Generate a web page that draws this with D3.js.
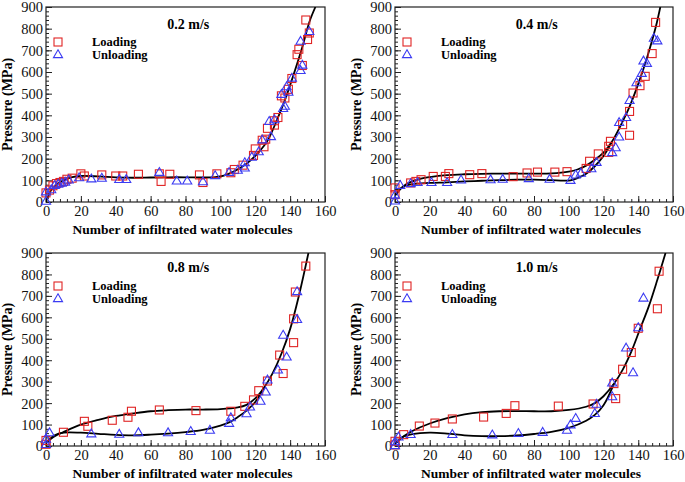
<!DOCTYPE html>
<html>
<head>
<meta charset="utf-8">
<script src="https://cdn.jsdelivr.net/npm/d3@7"></script>
<style>
body { margin: 0; background: #fff; }
text { font-family: "Liberation Serif", "Times New Roman", serif; }
</style>
</head>
<body>
<div id="chart"></div>
<script>
// axis ticks
const xTicks = [0, 20, 40, 60, 80, 100, 120, 140, 160];
const yTicks = [0, 100, 200, 300, 400, 500, 600, 700, 800, 900];
const xMinor = d3.range(0, 161, 4);
const yMinor = d3.range(0, 901, 20);

const speeds = ['0.2 m/s', '0.4 m/s', '0.8 m/s', '1.0 m/s'];

// 0.2 m/s  [molecules, MPa]
const load02 = [[0,42],[2,55],[4,75],[6,85],[8,90],[10,95],[12,105],[15,110],[20,130],[22,120],[32,125],[40,120],[44,120],[53,128],[65,130],[66,95],[71,128],[88,125],[90,90],[98,130],[106,135],[108,150],[113,170],[119,215],[120,245],[124,285],[125,255],[126,290],[127,340],[131,355],[131,375],[133,390],[135,490],[137,480],[139,520],[141,570],[144,680],[145,705],[147,630],[149,840],[150,750],[151,780]];
const unload02 = [[0,2],[0,45],[3,55],[5,75],[7,80],[9,85],[11,90],[13,100],[19,110],[26,105],[32,108],[42,102],[46,102],[65,135],[75,95],[81,95],[90,92],[97,120],[105,135],[110,145],[114,155],[114,180],[118,205],[122,230],[124,285],[128,370],[129,300],[131,378],[135,495],[136,430],[137,440],[138,530],[139,505],[141,570],[146,740],[146,605],[147,630],[151,785]];
const fit02 = [[0,0],[3,55],[6,80],[10,100],[15,115],[20,120],[30,118],[40,114],[50,112],[60,113],[70,114],[80,114],[90,113],[97,115],[102,122],[107,138],[112,160],[117,190],[122,230],[127,282],[132,370],[137,470],[142,588],[147,715],[151,830],[154.5,900]];

// 0.4 m/s
const load04 = [[0,65],[0,34],[9,88],[12,95],[15,103],[22,118],[29,118],[31,131],[43,126],[50,131],[68,117],[76,134],[82,138],[92,138],[99,140],[110,155],[112,188],[117,222],[123,229],[123,257],[124,280],[131,357],[135,418],[135,308],[137,503],[141,537],[144,580],[148,685],[150,829]];
const unload04 = [[0,3],[0,30],[3,75],[9,83],[13,88],[21,88],[30,88],[38,100],[55,101],[62,103],[77,106],[89,103],[101,98],[104,123],[107,131],[113,152],[116,181],[125,226],[127,249],[129,298],[129,365],[133,388],[135,467],[139,549],[142,592],[143,649],[145,638],[149,754],[151,742]];
const fitLoad04 = [[0,30],[3,60],[6,80],[10,95],[15,108],[20,115],[30,124],[40,128],[50,130],[60,131],[70,131],[80,131],[90,132],[100,140],[105,150],[110,168],[115,195],[120,228],[125,280],[130,355],[135,440],[140,545],[145,665],[150,805],[152.7,900]];
const fitUnload04 = [[0,30],[3,60],[6,75],[10,83],[20,88],[30,91],[40,95],[50,98],[60,101],[70,103],[80,103],[90,101],[97,99],[101,100],[105,110],[110,130],[115,165],[120,212],[125,280]];

// 0.8 m/s
const load08 = [[0,26],[0,8],[10,64],[22,115],[24,92],[38,120],[47,134],[49,162],[65,168],[86,165],[106,162],[114,185],[119,215],[122,258],[127,303],[134,424],[136,338],[142,482],[142,593],[143,718],[149,839]];
const unload08 = [[0,5],[0,30],[2,60],[26,55],[42,53],[53,60],[70,60],[83,66],[94,72],[105,104],[106,130],[115,149],[117,180],[123,207],[126,250],[127,306],[133,353],[136,515],[138,413],[144,588],[144,718]];
const fitLoad08 = [[0,15],[5,45],[10,65],[20,100],[30,122],[40,140],[50,152],[60,162],[70,167],[80,170],[90,170],[100,172],[110,180],[115,192],[120,222],[125,272],[130,340],[135,430],[140,545],[145,700],[150.5,900]];
const fitUnload08 = [[0,15],[5,50],[10,62],[20,62],[30,57],[40,52],[50,50],[60,53],[70,58],[80,65],[90,75],[100,95],[105,110],[110,135],[115,165],[120,205],[125,272]];

// 1.0 m/s
const load10 = [[0,22],[0,5],[5,53],[14,93],[23,107],[33,126],[51,135],[64,152],[69,188],[94,186],[114,196],[126,291],[127,221],[131,358],[136,436],[140,549],[151,640],[152,815]];
const unload10 = [[0,0],[0,18],[2,40],[9,52],[33,52],[56,50],[71,57],[85,62],[99,72],[101,97],[104,127],[115,150],[116,193],[125,228],[125,292],[133,455],[137,340],[140,550],[143,688]];
const fitLoad10 = [[0,10],[5,45],[10,70],[20,105],[30,130],[40,148],[50,158],[60,162],[70,163],[80,162],[90,162],[100,168],[110,183],[115,200],[120,232],[126,290],[131,355],[136,440],[141,545],[146,650],[151,775],[155.7,900]];
const fitUnload10 = [[0,10],[4,40],[10,55],[20,62],[30,58],[40,50],[50,46],[60,46],[70,49],[80,56],[90,66],[100,85],[110,118],[115,145],[120,190],[126,290]];

const panels = [
  {title: speeds[0], load: load02, unload: unload02, fits: [fit02], left: 46, right: 325, top: 7, bottom: 202},
  {title: speeds[1], load: load04, unload: unload04, fits: [fitLoad04, fitUnload04], left: 395, right: 673, top: 7, bottom: 202},
  {title: speeds[2], load: load08, unload: unload08, fits: [fitLoad08, fitUnload08], left: 46, right: 325, top: 253, bottom: 446},
  {title: speeds[3], load: load10, unload: unload10, fits: [fitLoad10, fitUnload10], left: 395, right: 673, top: 253, bottom: 446}
];

const red = '#e02424', blue = '#3b3bf2';

const svg = d3.select('#chart').append('svg')
  .attr('width', 685).attr('height', 482)
  .style('background', '#fff');

panels.forEach((p, i) => {
  const x = d3.scaleLinear().domain([0, 160]).range([p.left, p.right]);
  const y = d3.scaleLinear().domain([0, 900]).range([p.bottom, p.top]);
  const g = svg.append('g');

  g.append('clipPath').attr('id', 'clip' + i)
    .append('rect')
    .attr('x', p.left).attr('y', p.top)
    .attr('width', p.right - p.left).attr('height', p.bottom - p.top);

  // minor ticks
  g.append('g').attr('transform', `translate(0,${p.bottom})`)
    .call(d3.axisBottom(x).tickValues(xMinor).tickSize(-3).tickFormat(''))
    .call(a => a.select('.domain').remove());
  g.append('g').attr('transform', `translate(${p.left},0)`)
    .call(d3.axisLeft(y).tickValues(yMinor).tickSize(-3).tickFormat(''))
    .call(a => a.select('.domain').remove());

  // major ticks
  const xa = g.append('g').attr('transform', `translate(0,${p.bottom})`)
    .call(d3.axisBottom(x).tickValues(xTicks).tickSize(-6).tickPadding(4));
  xa.select('.domain').remove();
  xa.selectAll('text').attr('y', 14).attr('dy', null).style('font-size', '14.5px');

  const ya = g.append('g').attr('transform', `translate(${p.left},0)`)
    .call(d3.axisLeft(y).tickValues(yTicks).tickSize(-6).tickPadding(4));
  ya.select('.domain').remove();
  ya.selectAll('text').attr('x', -3).attr('dy', '0.34em').style('font-size', '14.5px');

  g.selectAll('.tick line').attr('stroke', '#222');
  g.selectAll('.tick text').attr('fill', '#111');

  // frame
  g.append('rect')
    .attr('x', p.left).attr('y', p.top)
    .attr('width', p.right - p.left).attr('height', p.bottom - p.top)
    .attr('fill', 'none').attr('stroke', '#222').attr('stroke-width', 1.2);

  // fitted curves
  const line = d3.line().x(d => x(d[0])).y(d => y(d[1])).curve(d3.curveCatmullRom.alpha(0.5));
  g.append('g').attr('clip-path', `url(#clip${i})`)
    .selectAll('path').data(p.fits).join('path')
    .attr('d', line).attr('fill', 'none').attr('stroke', '#000').attr('stroke-width', 1.8);

  // loading squares
  g.append('g').selectAll('rect').data(p.load).join('rect')
    .attr('x', d => x(d[0]) - 4).attr('y', d => y(d[1]) - 4)
    .attr('width', 8).attr('height', 8)
    .attr('fill', 'none').attr('stroke', red).attr('stroke-width', 1.1);

  // unloading triangles
  const tri = d3.symbol(d3.symbolTriangle, 36);
  g.append('g').selectAll('path').data(p.unload).join('path')
    .attr('d', tri)
    .attr('transform', d => `translate(${x(d[0])},${y(d[1])})`)
    .attr('fill', 'none').attr('stroke', blue).attr('stroke-width', 1.1);

  // title
  const cx = p.left + 0.51 * (p.right - p.left);
  const row2 = p.top > 100;
  g.append('text').attr('x', cx).attr('y', p.top + (row2 ? 19 : 22))
    .attr('text-anchor', 'middle').style('font-size', '14px').style('font-weight', 'bold')
    .text(p.title);

  // legend
  const ly1 = p.top + (row2 ? 33 : 35), ly2 = p.top + (row2 ? 46 : 48);
  g.append('rect').attr('x', p.left + 12 - 4).attr('y', ly1 - 4).attr('width', 8).attr('height', 8)
    .attr('fill', 'none').attr('stroke', red).attr('stroke-width', 1.1);
  g.append('path').attr('d', tri).attr('transform', `translate(${p.left + 12},${ly2})`)
    .attr('fill', 'none').attr('stroke', blue).attr('stroke-width', 1.1);
  g.append('text').attr('x', p.left + 46).attr('y', ly1 + 4)
    .style('font-size', '12.5px').style('font-weight', 'bold').text('Loading');
  g.append('text').attr('x', p.left + 46).attr('y', ly2 + 4)
    .style('font-size', '12.5px').style('font-weight', 'bold').text('Unloading');

  // axis titles
  g.append('text').attr('x', (p.left + p.right) / 2 - 3).attr('y', p.bottom + 32)
    .attr('text-anchor', 'middle').style('font-size', '13.5px').style('font-weight', 'bold')
    .text('Number of infiltrated water molecules');
  g.append('text')
    .attr('transform', `translate(${p.left - 34},${(p.top + p.bottom) / 2}) rotate(-90)`)
    .attr('text-anchor', 'middle').style('font-size', '14px').style('font-weight', 'bold')
    .text('Pressure (MPa)');
});
</script>
</body>
</html>
